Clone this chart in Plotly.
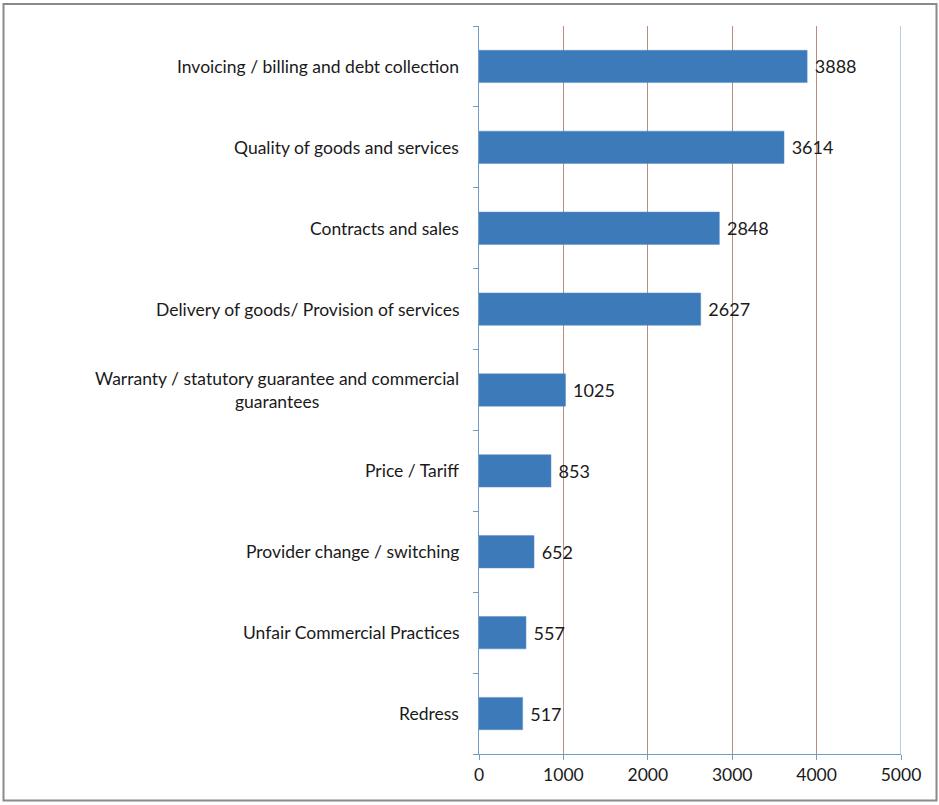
import plotly.graph_objects as go

categories = [
    "Invoicing / billing and debt collection",
    "Quality of goods and services",
    "Contracts and sales",
    "Delivery of goods/ Provision of services",
    "Warranty / statutory guarantee and commercial<br>guarantees",
    "Price / Tariff",
    "Provider change / switching",
    "Unfair Commercial Practices",
    "Redress",
]
values = [3888, 3614, 2848, 2627, 1025, 853, 652, 557, 517]
x_ticks = [0, 1000, 2000, 3000, 4000, 5000]

W, H = 939, 805
L, R, T, B = 479, 38, 26, 51
pw, ph = W - L - R, H - T - B

font_family = "Lato, 'Open Sans', sans-serif"
txt_color = "#1a1a1a"

fig = go.Figure()
fig.add_trace(go.Bar(
    x=values,
    y=categories,
    orientation="h",
    width=0.4,
    marker=dict(color="#3d7ab9", line=dict(color="#5a8fc8", width=0.5)),
    text=[str(v) for v in values],
    texttemplate=" %{text}",
    textposition="outside",
    textfont=dict(family=font_family, size=18, color=txt_color),
    cliponaxis=False,
    hoverinfo="skip",
))

# category labels as annotations (centered multi-line)
for c in categories:
    fig.add_annotation(
        x=0, xref="paper", y=c, yref="y",
        text=c, showarrow=False, xanchor="right", xshift=-18,
        align="center",
        font=dict(family=font_family, size=17.5, color=txt_color),
    )

def px_x(p):
    return (p - L) / pw

def px_y(p):
    return 1 - (p - T) / ph

# outer border
fig.add_shape(type="rect", xref="paper", yref="paper",
              x0=px_x(3.5), x1=px_x(936.5), y0=px_y(4), y1=px_y(800.5),
              line=dict(color="#8a8a8a", width=2), layer="below")
# blue line at 5000
fig.add_shape(type="line", xref="x", yref="paper", x0=5000, x1=5000, y0=0, y1=1,
              line=dict(color="#6d9cc4", width=1))

fig.update_layout(
    width=W, height=H,
    margin=dict(l=L, r=R, t=T, b=B),
    paper_bgcolor="white", plot_bgcolor="white",
    showlegend=False,
    font=dict(family=font_family, size=17.5, color=txt_color),
    xaxis=dict(
        range=[0, 5000], tickvals=x_ticks, ticktext=[str(t) for t in x_ticks],
        showgrid=True, gridcolor="#b98d84", gridwidth=1,
        showline=True, linecolor="#6d9cc4", linewidth=1,
        ticks="outside", ticklen=5, tickcolor="#6d9cc4",
        zeroline=False, tickfont=dict(size=17.5, family=font_family, color=txt_color),
    ),
    yaxis=dict(
        categoryorder="array", categoryarray=categories[::-1],
        showticklabels=False, tickson="boundaries",
        ticks="outside", ticklen=5, tickcolor="#6d9cc4",
        showline=True, linecolor="#6d9cc4", linewidth=1,
        showgrid=False, zeroline=False,
    ),
    bargap=0.6,
)

fig.write_html("out.html", config={"displayModeBar": False},
               post_script="document.body.style.margin='0';document.body.style.overflow='hidden';")
